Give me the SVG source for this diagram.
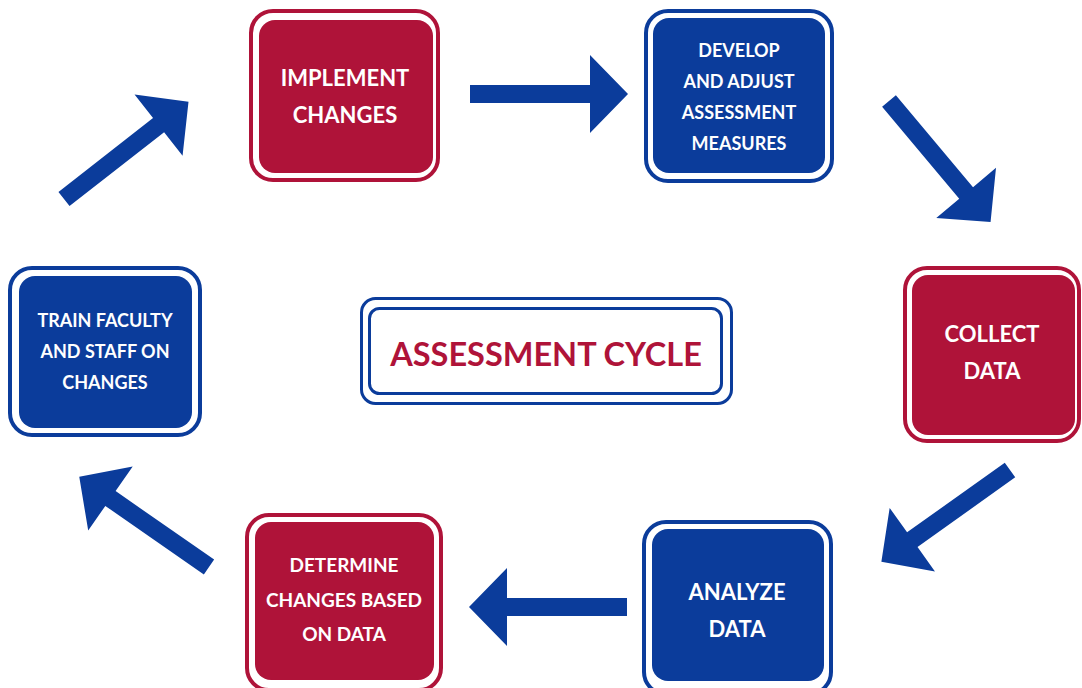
<svg xmlns="http://www.w3.org/2000/svg" width="1082" height="688" viewBox="0 0 1082 688">
  <defs>
    <style>
      .frame { fill: none; stroke-width: 4; }
      .red .frame { stroke: #AF1339; }
      .blue .frame { stroke: #0B3C9B; }
      .red .fill { fill: #AF1339; }
      .blue .fill { fill: #0B3C9B; }
      .label { font-family: Lato, "Open Sans", "Liberation Sans", sans-serif; font-weight: bold; fill: #ffffff; text-anchor: middle; }
      .arrow { fill: #0B3C9B; }
      .title-frame { fill: none; stroke: #0B3C9B; stroke-width: 3; }
      .title { font-family: Lato, "Open Sans", "Liberation Sans", sans-serif; font-weight: bold; fill: #AF1339; text-anchor: middle; font-size: 32.5px; }
    </style>
    <!-- block arrow, tail at origin, pointing along +x, 158 long -->
    <path id="blockArrow" d="M0,-9 H120 V-39 L158,0 L120,39 V9 H0 Z"/>
  </defs>

  <rect width="1082" height="688" fill="#ffffff"/>

  <!-- centre title -->
  <g id="title">
    <rect class="title-frame" x="361.5" y="298.5" width="370" height="105" rx="14"/>
    <rect class="title-frame" x="369.5" y="308.5" width="352" height="85" rx="10"/>
    <text class="title" x="546" y="366">ASSESSMENT CYCLE</text>
  </g>

  <g id="implement" class="red">
    <rect class="frame" x="251" y="11" width="187" height="169" rx="22"/>
    <rect class="fill" x="259" y="20" width="174" height="153" rx="16"/>
    <text class="label" font-size="22" x="345" y="86">IMPLEMENT</text>
    <text class="label" font-size="22" x="345" y="123">CHANGES</text>
  </g>

  <g id="develop" class="blue">
    <rect class="frame" x="646" y="11" width="186" height="170" rx="22"/>
    <rect class="fill" x="653" y="18" width="172" height="155" rx="16"/>
    <text class="label" font-size="18" x="739" y="57">DEVELOP</text>
    <text class="label" font-size="18" x="739" y="88">AND ADJUST</text>
    <text class="label" font-size="18" x="739" y="119">ASSESSMENT</text>
    <text class="label" font-size="18" x="739" y="150">MEASURES</text>
  </g>

  <g id="collect" class="red">
    <rect class="frame" x="905" y="268" width="174" height="173" rx="22"/>
    <rect class="fill" x="912" y="275" width="163" height="160" rx="16"/>
    <text class="label" font-size="22" x="992" y="342">COLLECT</text>
    <text class="label" font-size="22" x="992" y="379">DATA</text>
  </g>

  <g id="analyze" class="blue">
    <rect class="frame" x="644" y="522" width="187" height="172" rx="22"/>
    <rect class="fill" x="652" y="529" width="172" height="152" rx="16"/>
    <text class="label" font-size="22" x="737" y="600">ANALYZE</text>
    <text class="label" font-size="22" x="737" y="637">DATA</text>
  </g>

  <g id="determine" class="red">
    <rect class="frame" x="247" y="515" width="194" height="175" rx="22"/>
    <rect class="fill" x="255" y="522" width="179" height="158" rx="16"/>
    <text class="label" font-size="19" x="344" y="572">DETERMINE</text>
    <text class="label" font-size="19" x="344" y="607">CHANGES BASED</text>
    <text class="label" font-size="19" x="344" y="641">ON DATA</text>
  </g>

  <g id="train" class="blue">
    <rect class="frame" x="10" y="268" width="190" height="167" rx="22"/>
    <rect class="fill" x="19" y="276" width="173" height="152" rx="16"/>
    <text class="label" font-size="18" x="105" y="327">TRAIN FACULTY</text>
    <text class="label" font-size="18" x="105" y="358">AND STAFF ON</text>
    <text class="label" font-size="18" x="105" y="389">CHANGES</text>
  </g>

  <!-- connectors around the cycle -->
  <g id="connectors" class="arrow">
    <use href="#blockArrow" transform="translate(470,94)"/>
    <use href="#blockArrow" transform="translate(889,101) rotate(50)"/>
    <use href="#blockArrow" transform="translate(1010,470) rotate(144.5)"/>
    <use href="#blockArrow" transform="translate(627,607) rotate(180)"/>
    <use href="#blockArrow" transform="translate(209,567) rotate(214.8)"/>
    <use href="#blockArrow" transform="translate(64,199) rotate(-38)"/>
  </g>
</svg>
